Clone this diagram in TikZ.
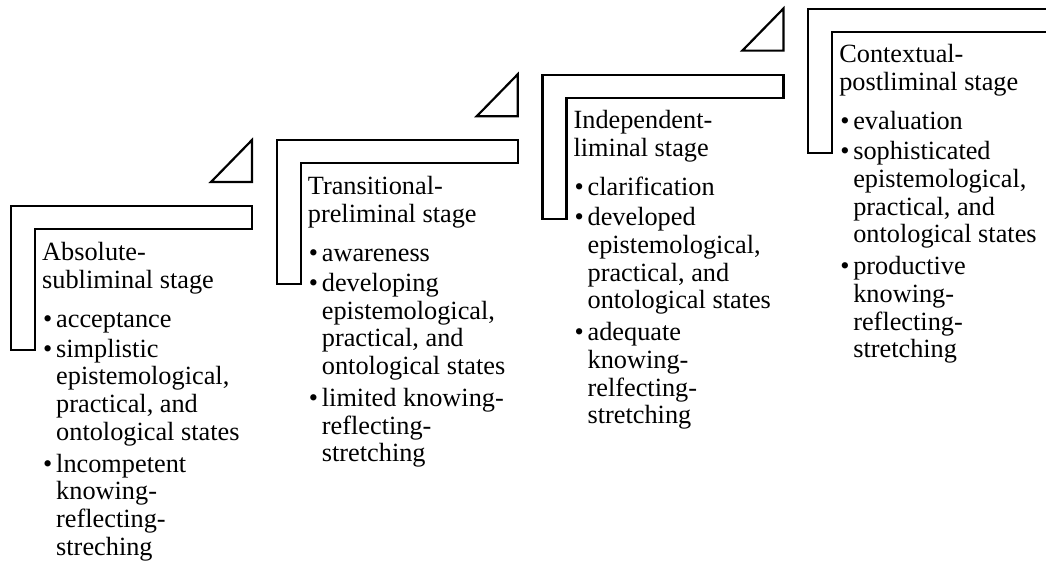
\documentclass[tikz,border=0pt]{standalone}
\usepackage{fontspec}
\setmainfont{Liberation Serif}
\newcommand\hdline[3]{\node[txt] (#1) at (31,#2) {#3};}
\newcommand\bulline[3]{\node[txt] (#1) at (32,#2) {\makebox[13pt][l]{\textbullet}#3};}
\newcommand\contline[3]{\node[txt] (#1) at (45,#2) {#3};}
\begin{document}
\begin{tikzpicture}[x=1pt,y=-1pt,
  bracket/.style={draw=black,line width=2.2pt,line join=miter,fill=white},
  tri/.style={draw=black,line width=2.2pt,line join=miter},
  txt/.style={anchor=base west,inner sep=0pt,font=\fontsize{26.3}{27.7}\selectfont}]
\useasboundingbox (0,0) rectangle (1046,562);
\clip (0,0) rectangle (1046,562);
\fill[white] (0,0) rectangle (1046,562);
% bracket shapes
\foreach \k in {0,1,2,3} {
  \begin{scope}[shift={(11+265.7*\k,206-65.7*\k)}]
    \draw[bracket] (0,0) -- (241,0) -- (241,23) -- (24,23) -- (24,144) -- (0,144) -- cycle;
  \end{scope}
}
% step triangles
\foreach \k in {0,1,2} {
  \begin{scope}[shift={(11+265.7*\k,206-65.7*\k)}]
    \draw[tri] (200,-24) -- (241,-24) -- (241,-66) -- cycle;
  \end{scope}
}
% stage 1
\begin{scope}[shift={(11,206)}]
  \hdline{s1h1}{54}{Absolute-}
  \hdline{s1h2}{82}{subliminal stage}
  \bulline{s1a}{121}{acceptance}
  \bulline{s1b1}{151}{simplistic}
  \contline{s1b2}{178.7}{epistemological,}
  \contline{s1b3}{206.4}{practical, and}
  \contline{s1b4}{234}{ontological states}
  \bulline{s1c1}{266}{lncompetent}
  \contline{s1c2}{293.7}{knowing-}
  \contline{s1c3}{321.4}{reflecting-}
  \contline{s1c4}{349}{streching}
\end{scope}
% stage 2
\begin{scope}[shift={(276.7,140.3)}]
  \hdline{s2h1}{54}{Transitional-}
  \hdline{s2h2}{82}{preliminal stage}
  \bulline{s2a}{121}{awareness}
  \bulline{s2b1}{151}{developing}
  \contline{s2b2}{178.7}{epistemological,}
  \contline{s2b3}{206.4}{practical, and}
  \contline{s2b4}{234}{ontological states}
  \bulline{s2c1}{266}{limited knowing-}
  \contline{s2c2}{293.7}{reflecting-}
  \contline{s2c3}{321.4}{stretching}
\end{scope}
% stage 3
\begin{scope}[shift={(542.4,74.6)}]
  \hdline{s3h1}{54}{Independent-}
  \hdline{s3h2}{82}{liminal stage}
  \bulline{s3a}{121}{clarification}
  \bulline{s3b1}{151}{developed}
  \contline{s3b2}{178.7}{epistemological,}
  \contline{s3b3}{206.4}{practical, and}
  \contline{s3b4}{234}{ontological states}
  \bulline{s3c1}{266}{adequate}
  \contline{s3c2}{293.7}{knowing-}
  \contline{s3c3}{321.4}{relfecting-}
  \contline{s3c4}{349}{stretching}
\end{scope}
% stage 4
\begin{scope}[shift={(808.1,8.9)}]
  \hdline{s4h1}{54}{Contextual-}
  \hdline{s4h2}{82}{postliminal stage}
  \bulline{s4a}{121}{evaluation}
  \bulline{s4b1}{151}{sophisticated}
  \contline{s4b2}{178.7}{epistemological,}
  \contline{s4b3}{206.4}{practical, and}
  \contline{s4b4}{234}{ontological states}
  \bulline{s4c1}{266}{productive}
  \contline{s4c2}{293.7}{knowing-}
  \contline{s4c3}{321.4}{reflecting-}
  \contline{s4c4}{349}{stretching}
\end{scope}
\end{tikzpicture}
\end{document}
